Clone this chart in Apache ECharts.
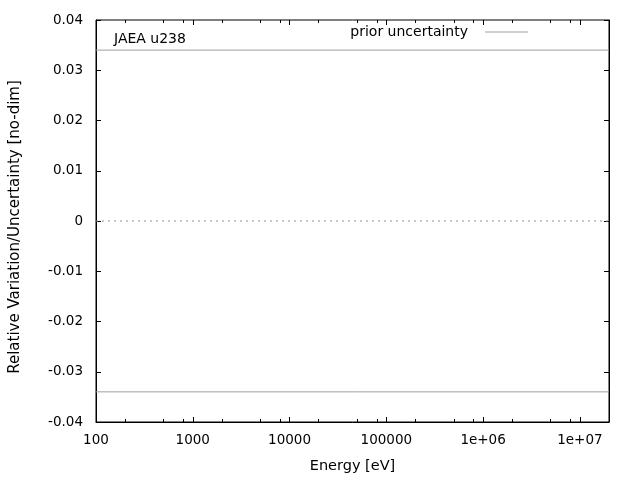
<!DOCTYPE html>
<html>
<head>
<meta charset="utf-8">
<script src="https://cdn.jsdelivr.net/npm/echarts@6/dist/echarts.min.js"></script>
<style>
  html, body { margin: 0; padding: 0; background: #fff; }
  #chart { width: 640px; height: 480px; }
</style>
</head>
<body>
<div id="chart"></div>
<script>
// energy range [eV] and the curves plotted over it
const energy = [100, 2e7];
const priorUpper = [0.034, 0.034];
const priorLower = [-0.034, -0.034];
const zeroLine = [0, 0];

// tick positions
const xMajorTicks = [100, 1000, 10000, 100000, 1e6, 1e7];
const xMinorTicks = [200, 500, 800, 2000, 5000, 8000, 20000, 50000, 80000,
    200000, 500000, 800000, 2e6, 5e6, 8e6];
const yTicks = [-0.04, -0.03, -0.02, -0.01, 0, 0.01, 0.02, 0.03, 0.04];

const FONT = 'DejaVu Sans';
const GREY = '#a0a0a0';

function pairs(xs, ys) {
    return xs.map((x, i) => [x, ys[i]]);
}

function xLabel(v) {
    if (v >= 1e6) {
        const e = Math.round(Math.log10(v));
        return '1e+' + (e < 10 ? '0' + e : e);
    }
    return String(Math.round(v));
}

function xAxisDef(position, ticks, len, withLabels) {
    return {
        type: 'log',
        logBase: 10,
        min: 100,
        max: 2e7,
        position: position,
        gridIndex: 0,
        axisLine: { show: withLabels, onZero: false, lineStyle: { color: '#000', width: 1 } },
        axisTick: { show: true, inside: true, length: len, customValues: ticks,
            lineStyle: { color: '#000', width: 1 } },
        axisLabel: withLabels ? {
            show: true, customValues: xMajorTicks, formatter: xLabel,
            color: '#000', fontFamily: FONT, fontSize: 13.5, margin: 11
        } : { show: false },
        splitLine: { show: false },
        minorTick: { show: false }
    };
}

function yAxisDef(position, withLabels) {
    return {
        type: 'value',
        min: -0.04,
        max: 0.04,
        interval: 0.01,
        position: position,
        gridIndex: 0,
        axisLine: { show: true, onZero: false, lineStyle: { color: '#000', width: 1 } },
        axisTick: { show: true, inside: true, length: 5, customValues: yTicks,
            lineStyle: { color: '#000', width: 1 } },
        axisLabel: withLabels ? {
            show: true, color: '#000', fontFamily: FONT, fontSize: 13.5, margin: 13,
            formatter: v => String(Math.round(v * 100) / 100)
        } : { show: false },
        splitLine: { show: false },
        name: withLabels ? 'Relative Variation/Uncertainty [no-dim]' : '',
        nameLocation: 'middle',
        nameGap: 73,
        nameTextStyle: { color: '#000', fontFamily: FONT, fontSize: 15, padding: [0, 12, 0, 0] }
    };
}

const xMain = xAxisDef('bottom', xMajorTicks, 5, true);
xMain.name = 'Energy [eV]';
xMain.nameLocation = 'middle';
xMain.nameGap = 37;
xMain.nameTextStyle = { color: '#000', fontFamily: FONT, fontSize: 14.5 };

const chart = echarts.init(document.getElementById('chart'), null, { renderer: 'canvas' });
chart.setOption({
    animation: false,
    backgroundColor: '#fff',
    textStyle: { fontFamily: FONT },
    title: {
        text: 'JAEA u238',
        left: 114,
        top: 32,
        padding: 0,
        textStyle: { color: '#000', fontFamily: FONT, fontSize: 14, fontWeight: 'normal' }
    },
    legend: {
        data: ['prior uncertainty'],
        right: 112,
        top: 25,
        padding: 0,
        align: 'right',
        icon: 'rect',
        itemWidth: 43,
        itemHeight: 1,
        textStyle: { color: '#000', fontFamily: FONT, fontSize: 14, padding: [0, 12, 0, 0] }
    },
    grid: {
        left: 95, right: 31, top: 20, bottom: 58,
        show: true, borderColor: '#000', borderWidth: 1, backgroundColor: 'transparent'
    },
    xAxis: [
        xMain,
        xAxisDef('bottom', xMinorTicks, 3, false),
        xAxisDef('top', xMajorTicks, 5, false),
        xAxisDef('top', xMinorTicks, 3, false)
    ],
    yAxis: [
        yAxisDef('left', true),
        yAxisDef('right', false)
    ],
    series: [
        {
            name: 'zero',
            type: 'line',
            data: pairs(energy, zeroLine),
            symbol: 'none',
            silent: true,
            lineStyle: { color: '#909090', width: 1, type: [2, 4] }
        },
        {
            name: 'prior uncertainty',
            type: 'line',
            data: pairs(energy, priorUpper),
            symbol: 'none',
            color: GREY,
            lineStyle: { color: GREY, width: 1 }
        },
        {
            name: 'prior uncertainty',
            type: 'line',
            data: pairs(energy, priorLower),
            symbol: 'none',
            color: GREY,
            lineStyle: { color: GREY, width: 1 }
        }
    ]
});
</script>
</body>
</html>
